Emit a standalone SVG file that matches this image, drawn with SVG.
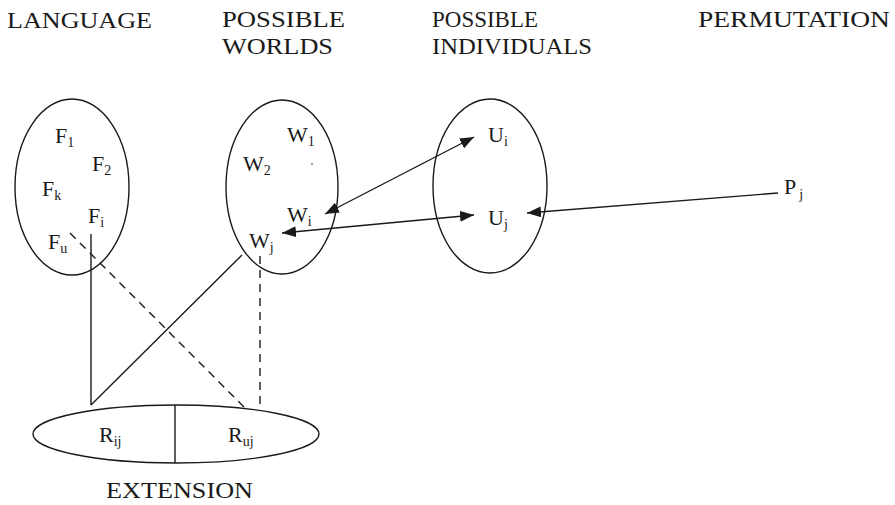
<svg xmlns="http://www.w3.org/2000/svg" width="895" height="505" viewBox="0 0 895 505">
<style>
  .hd { font-family: "Liberation Serif", "DejaVu Serif", serif; font-size: 23px; fill: #1a1a1a; }
  .lb { font-family: "Liberation Serif", "DejaVu Serif", serif; font-size: 22px; fill: #1a1a1a; }
  .sb { font-size: 14px; }
  .el { fill: none; stroke: #1a1a1a; stroke-width: 1.4; }
  .ln { fill: none; stroke: #1a1a1a; stroke-width: 1.4; }
  .ds { fill: none; stroke: #1a1a1a; stroke-width: 1.4; stroke-dasharray: 8 6; }
</style>
<defs>
  <marker id="ah" markerUnits="userSpaceOnUse" markerWidth="15" markerHeight="11" refX="14" refY="5.5" orient="auto-start-reverse">
    <path d="M0,0 L14,5.5 L0,11 z" fill="#1a1a1a"/>
  </marker>
</defs>
<rect width="895" height="505" fill="#ffffff"/>

<g id="headers">
  <text class="hd" x="7" y="28" textLength="145" lengthAdjust="spacingAndGlyphs">LANGUAGE</text>
  <text class="hd" x="222" y="27" textLength="123" lengthAdjust="spacingAndGlyphs">POSSIBLE</text>
  <text class="hd" x="222" y="54" textLength="111" lengthAdjust="spacingAndGlyphs">WORLDS</text>
  <text class="hd" x="432" y="27" textLength="106" lengthAdjust="spacingAndGlyphs">POSSIBLE</text>
  <text class="hd" x="432" y="54" textLength="160" lengthAdjust="spacingAndGlyphs">INDIVIDUALS</text>
  <text class="hd" x="698" y="27" textLength="192" lengthAdjust="spacingAndGlyphs">PERMUTATION</text>
</g>

<g id="language">
  <ellipse class="el" cx="72" cy="187" rx="57" ry="88"/>
  <text class="lb" x="55" y="143">F<tspan class="sb" dy="4">1</tspan></text>
  <text class="lb" x="92" y="171">F<tspan class="sb" dy="4">2</tspan></text>
  <text class="lb" x="42" y="196">F<tspan class="sb" dy="4">k</tspan></text>
  <text class="lb" x="88" y="223">F<tspan class="sb" dy="4">i</tspan></text>
  <text class="lb" x="48" y="249">F<tspan class="sb" dy="4">u</tspan></text>
</g>

<g id="worlds">
  <ellipse class="el" cx="282" cy="187" rx="56" ry="87"/>
  <text class="lb" x="287" y="142">W<tspan class="sb" dy="4">1</tspan></text>
  <text class="lb" x="243" y="171">W<tspan class="sb" dy="4">2</tspan></text>
  <circle cx="312" cy="164" r="0.8" fill="#1a1a1a"/>
  <text class="lb" x="287" y="222">W<tspan class="sb" dy="4">i</tspan></text>
  <text class="lb" x="249" y="248">W<tspan class="sb" dy="4">j</tspan></text>
</g>

<g id="individuals">
  <ellipse class="el" cx="490" cy="186" rx="57" ry="87"/>
  <text class="lb" x="488" y="142">U<tspan class="sb" dy="4">i</tspan></text>
  <text class="lb" x="488" y="225">U<tspan class="sb" dy="4">j</tspan></text>
</g>

<g id="permutation">
  <text class="lb" x="784" y="194">P<tspan class="sb" dy="5" dx="3">j</tspan></text>
</g>

<g id="extension">
  <ellipse class="el" cx="176" cy="434" rx="143" ry="29"/>
  <line class="ln" x1="175" y1="405" x2="175" y2="463"/>
  <text class="lb" x="99" y="442">R<tspan class="sb" dy="4">ij</tspan></text>
  <text class="lb" x="228" y="442">R<tspan class="sb" dy="4">uj</tspan></text>
  <text class="hd" x="106" y="498" textLength="147" lengthAdjust="spacingAndGlyphs">EXTENSION</text>
</g>

<g id="connectors">
  <line class="ln" x1="325" y1="214" x2="474" y2="137" marker-start="url(#ah)" marker-end="url(#ah)"/>
  <line class="ln" x1="282" y1="233" x2="474" y2="215" marker-start="url(#ah)" marker-end="url(#ah)"/>
  <line class="ln" x1="778" y1="193" x2="527" y2="213" marker-end="url(#ah)"/>
  <line class="ln" x1="91" y1="234" x2="91" y2="405"/>
  <line class="ln" x1="91" y1="405" x2="242" y2="255"/>
  <line class="ds" x1="70" y1="233" x2="244" y2="407"/>
  <line class="ds" x1="260" y1="256" x2="260" y2="407"/>
</g>
</svg>
